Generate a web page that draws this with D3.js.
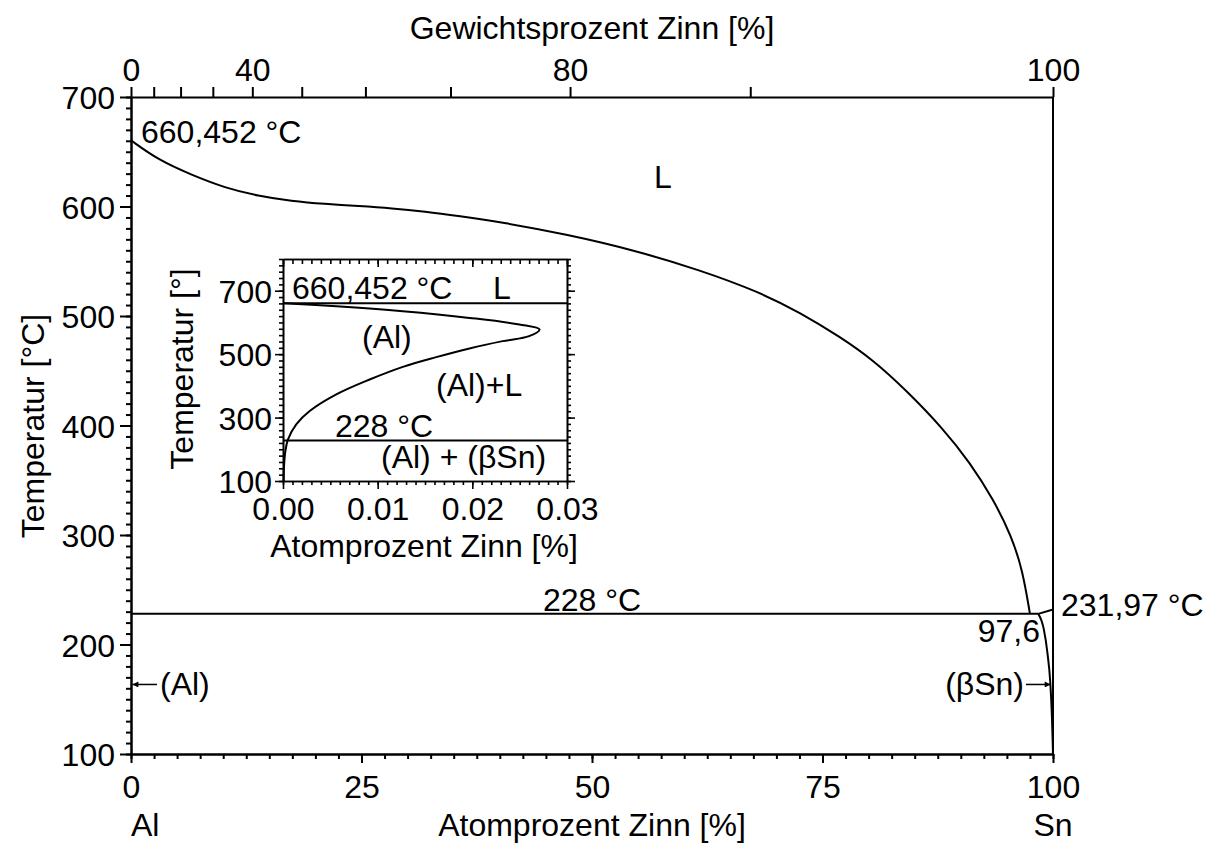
<!DOCTYPE html>
<html><head><meta charset="utf-8">
<script src="https://cdn.jsdelivr.net/npm/d3@7"></script>
<style>
body{margin:0;background:#fff}
text{font-family:"Liberation Sans",Arial,Helvetica,sans-serif;fill:#000}
</style>
</head><body>
<svg id="c" width="1212" height="845"></svg>
<script>
// ---- data ----
// main diagram: liquidus (at% Sn, °C)
const liquidus = [[0,660.452],[2.96,642.5],[6.58,628.8],[10.2,617],[13.8,609.6],[17.4,605],[21.0,602.3],[24.7,600.5],[28.3,598.4],[31.9,595.3],[35.5,591.3],[40.3,585.5],[47.3,574.5],[54.5,560.3],[61.7,542],[68.2,521.7],[72.6,503],[76.9,481],[80.5,459.8],[84.1,432],[88.1,397],[91.0,366],[93.5,333],[95.5,299],[96.7,268],[97.5,228]];
const eutectic = [[0,228],[98.4,228]];
const snSolidus = [[98.4,228],[100,231.97]];
const snSolvus = [[98.4,228],[99.0,214],[99.4,192],[99.7,166],[99.88,135],[99.97,110],[100,100]];
// inset: (Al) solvus (at% Sn, °C)
const insetSolvus = [[0.00007,660.452],[0.00563,651],[0.01266,635.4],[0.0197,614.3],[0.02497,593.5],[0.0271,577.8],[0.026,556.7],[0.0232,541],[0.0197,518],[0.01618,490.5],[0.01266,460],[0.00915,420],[0.00563,373],[0.00282,320.5],[0.0014,278.6],[0.00053,231.3],[0.00025,194.5],[0.0001,142],[0.00007,100]];
const insetLines = [660.452, 228];

// tick values / labels
const xMajor = [0,25,50,75,100];
const yMajor = [100,200,300,400,500,600,700];
const wtTicks = [0,10,20,30,40,50,60,70,80,90,100];
const wtLabels = ["0","","","","40","","","","80","","100"];
const insXMajor = [0,0.01,0.02,0.03];
const insXLabels = ["0.00","0.01","0.02","0.03"];
const insYMajor = [100,300,500,700];

const FS = 32;
const svg = d3.select("#c");

// ---- main scales ----
const x = d3.scaleLinear([0,100],[131,1053]);
const y = d3.scaleLinear([100,700],[754,97]);
// weight % Sn -> atomic % Sn (Sn 118.71, Al 26.98)
const wt2at = w => w===100 ? 100 : (w/118.71)/((w/118.71)+((100-w)/26.98))*100;

function styleAxis(g, sw){
  g.selectAll("path.domain").attr("stroke","#000").attr("stroke-width",sw);
  g.selectAll(".tick line").attr("stroke","#000").attr("stroke-width",sw);
  g.selectAll(".tick text").attr("font-size",FS).attr("font-family",'"Liberation Sans",Arial,sans-serif').attr("fill","#000");
}

// left axis
const gl = svg.append("g").attr("transform","translate(131,0)");
gl.append("g").call(d3.axisLeft(y).tickValues(d3.range(100,701,10)).tickSize(5).tickSizeOuter(0).tickFormat("")).call(g=>styleAxis(g,2));
gl.append("g").call(d3.axisLeft(y).tickValues(yMajor).tickSize(11).tickSizeOuter(0).tickPadding(5)).call(g=>styleAxis(g,2))
  .selectAll(".tick text").attr("dy","0.36em");
// bottom axis
const gb = svg.append("g").attr("transform","translate(0,754)");
gb.append("g").call(d3.axisBottom(x).tickValues(d3.range(0,100.01,2.5)).tickSize(5).tickSizeOuter(0).tickFormat("")).call(g=>styleAxis(g,2));
gb.append("g").call(d3.axisBottom(x).tickValues(xMajor).tickSize(9).tickSizeOuter(0).tickPadding(12)).call(g=>styleAxis(g,2));
// top axis (weight percent)
const gt = svg.append("g").attr("transform","translate(0,97)");
gt.append("g").call(d3.axisTop(x).tickValues(wtTicks.map(wt2at)).tickSize(10).tickSizeOuter(0).tickPadding(6).tickFormat((d,i)=>wtLabels[i])).call(g=>styleAxis(g,2));
// right frame
svg.append("line").attr("x1",x(100)).attr("x2",x(100)).attr("y1",y(700)).attr("y2",y(100)).attr("stroke","#000").attr("stroke-width",2);

// axis titles
svg.append("text").attr("x",592).attr("y",39).attr("text-anchor","middle").attr("font-size",FS).text("Gewichtsprozent Zinn [%]");
svg.append("text").attr("x",592).attr("y",836).attr("text-anchor","middle").attr("font-size",FS).text("Atomprozent Zinn [%]");
svg.append("text").attr("transform","translate(44,426) rotate(-90)").attr("text-anchor","middle").attr("font-size",FS).text("Temperatur [°C]");
svg.append("text").attr("x",x(0)).attr("y",836).attr("text-anchor","start").attr("font-size",FS).text("Al");
svg.append("text").attr("x",x(100)).attr("y",836).attr("text-anchor","middle").attr("font-size",FS).text("Sn");

// ---- main curves ----
const line = d3.line().x(d=>x(d[0])).y(d=>y(d[1]));
const lineBasis = d3.line().x(d=>x(d[0])).y(d=>y(d[1])).curve(d3.curveBasis);
const lineCurve = d3.line().x(d=>x(d[0])).y(d=>y(d[1])).curve(d3.curveMonotoneX);
const pathStyle = p => p.attr("fill","none").attr("stroke","#000").attr("stroke-width",2);
svg.append("path").datum(liquidus).attr("d",lineBasis).call(pathStyle);
svg.append("path").datum(eutectic).attr("d",line).call(pathStyle);
svg.append("path").datum(snSolidus).attr("d",line).call(pathStyle);
svg.append("path").datum(snSolvus).attr("d",lineCurve).call(pathStyle);

// arrow marker
svg.append("defs").append("marker").attr("id","ah").attr("viewBox","0 0 10 10").attr("refX",10).attr("refY",5)
  .attr("markerWidth",9).attr("markerHeight",6).attr("markerUnits","userSpaceOnUse").attr("orient","auto")
  .append("path").attr("d","M0,0 L10,5 L0,10 z").attr("fill","#000");

// main labels
const lab = (t,xx,yy,anchor) => svg.append("text").attr("x",xx).attr("y",yy).attr("text-anchor",anchor||"start").attr("font-size",FS).text(t);
lab("660,452 °C", 141, 143);
lab("L", 654, 188);
lab("228 °C", x(50), 611, "middle");
lab("97,6", 1040, 642, "end");
lab("231,97 °C", 1061, 616);
lab("(Al)", 160, 695);
lab("(βSn)", 1024, 695, "end");
svg.append("line").attr("x1",157).attr("x2",x(0.15)).attr("y1",y(163.5)).attr("y2",y(163.5)).attr("stroke","#000").attr("stroke-width",1.5).attr("marker-end","url(#ah)");
svg.append("line").attr("x1",1026).attr("x2",x(99.75)).attr("y1",y(163.5)).attr("y2",y(163.5)).attr("stroke","#000").attr("stroke-width",1.5).attr("marker-end","url(#ah)");

// ---- inset ----
const xi = d3.scaleLinear([0,0.03],[283,567]);
const yi = d3.scaleLinear([100,800],[481,259]);
const gi = svg.append("g");
// left
gi.append("g").attr("transform","translate(283,0)").call(d3.axisLeft(yi).tickValues(d3.range(100,801,20)).tickSize(4).tickSizeOuter(0).tickFormat("")).call(g=>styleAxis(g,1.6));
gi.append("g").attr("transform","translate(283,0)").call(d3.axisLeft(yi).tickValues(insYMajor).tickSize(8).tickSizeOuter(0).tickPadding(3)).call(g=>styleAxis(g,1.6))
  .selectAll(".tick text").attr("dy","0.36em");
// right
gi.append("g").attr("transform","translate(567,0)").call(d3.axisRight(yi).tickValues(d3.range(100,801,20)).tickSize(4).tickSizeOuter(0).tickFormat("")).call(g=>styleAxis(g,1.6));
gi.append("g").attr("transform","translate(567,0)").call(d3.axisRight(yi).tickValues(insYMajor).tickSize(8).tickSizeOuter(0).tickFormat("")).call(g=>styleAxis(g,1.6));
// bottom
gi.append("g").attr("transform","translate(0,481)").call(d3.axisBottom(xi).tickValues(d3.range(0,0.03001,0.001)).tickSize(4).tickSizeOuter(0).tickFormat("")).call(g=>styleAxis(g,1.6));
gi.append("g").attr("transform","translate(0,481)").call(d3.axisBottom(xi).tickValues(insXMajor).tickSize(8).tickSizeOuter(0).tickPadding(8).tickFormat((d,i)=>insXLabels[i])).call(g=>styleAxis(g,1.6));
// top
gi.append("g").attr("transform","translate(0,259)").call(d3.axisTop(xi).tickValues(d3.range(0,0.03001,0.001)).tickSize(-5).tickSizeOuter(0).tickFormat("")).call(g=>styleAxis(g,1.6));
gi.append("g").attr("transform","translate(0,259)").call(d3.axisTop(xi).tickValues(insXMajor).tickSize(-8).tickSizeOuter(0).tickFormat("")).call(g=>styleAxis(g,1.6));

const li = d3.line().x(d=>xi(d[0])).y(d=>yi(d[1])).curve(d3.curveCatmullRom.alpha(0.5));
svg.append("path").datum(insetSolvus).attr("d",li).call(pathStyle);
insetLines.forEach(t=>{
  svg.append("line").attr("x1",xi(0)).attr("x2",xi(0.03)).attr("y1",yi(t)).attr("y2",yi(t)).attr("stroke","#000").attr("stroke-width",2);
});
lab("660,452 °C", 292, 299);
lab("L", 493, 299);
lab("(Al)", 362, 348);
lab("(Al)+L", 436, 396);
lab("228 °C", 335, 437);
lab("(Al) + (βSn)", 381, 468);
svg.append("text").attr("x",424).attr("y",557).attr("text-anchor","middle").attr("font-size",FS).text("Atomprozent Zinn [%]");
svg.append("text").attr("transform","translate(193,369) rotate(-90)").attr("text-anchor","middle").attr("font-size",FS).text("Temperatur [°]");
</script>
</body></html>
